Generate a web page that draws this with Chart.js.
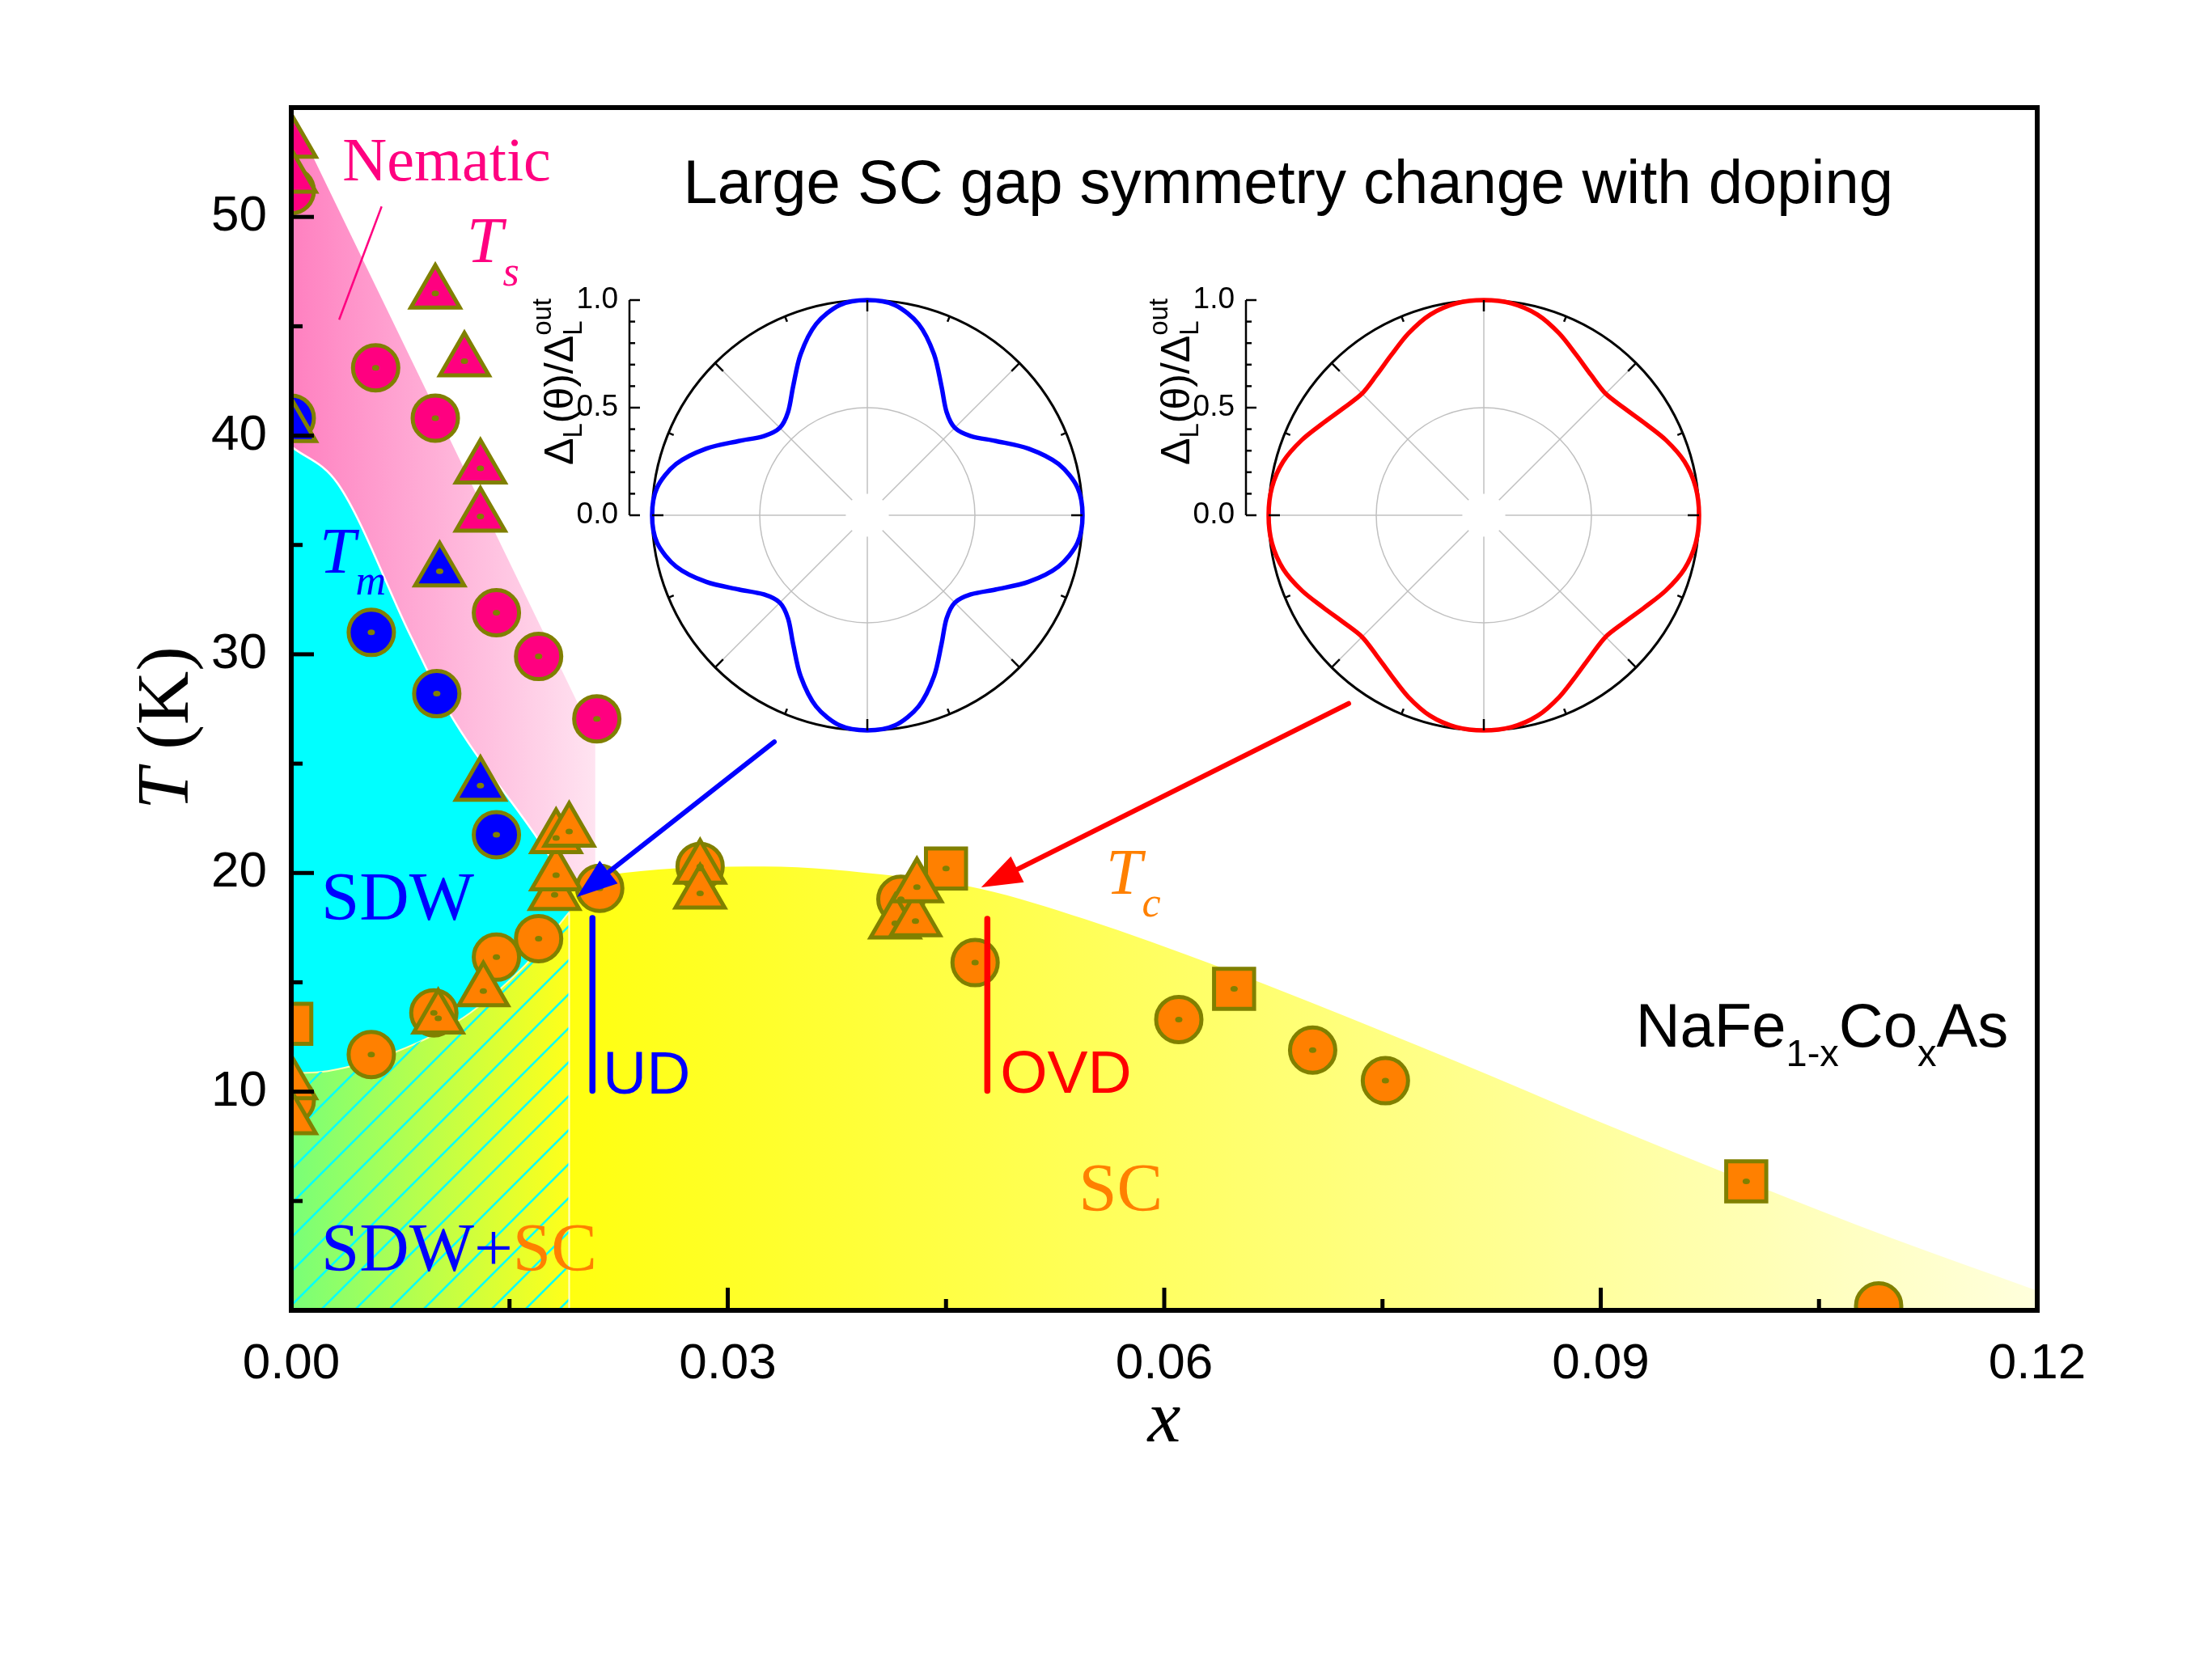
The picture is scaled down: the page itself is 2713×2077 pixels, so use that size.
<!DOCTYPE html>
<html>
<head>
<meta charset="utf-8">
<script src="https://cdn.jsdelivr.net/npm/chart.js@4.4.1/dist/chart.umd.min.js"></script>
<style>
body { margin: 0; background: #fff; }
#wrap { position: relative; width: 2713px; height: 2077px; background: #fff; }
#wrap canvas { position: absolute; }
</style>
</head>
<body>
<div id="wrap">
<canvas id="main" width="2713" height="2077" style="left:0;top:0"></canvas>
<canvas id="insetUD" width="880" height="600" style="left:486px;top:337px"></canvas>
<canvas id="insetOVD" width="880" height="600" style="left:1248px;top:337px"></canvas>
</div>
<script>
// ---------- data (x = Co doping, T in K) ----------
const xTickValues = [0, 0.03, 0.06, 0.09, 0.12];
const xMinorTicks = [0.015, 0.045, 0.075, 0.105];
const yTickValues = [10, 20, 30, 40, 50];
const yMinorTicks = [5, 15, 25, 35, 45];

// structural (nematic) transition Ts
const tsCircles = [[0, 51.2], [0.0058, 43.1], [0.0099, 40.8], [0.0141, 31.9], [0.0170, 29.9], [0.0210, 27.05]];
const tsTriangles = [[0, 53.4], [0, 51.8], [0.0099, 46.5], [0.0119, 43.4], [0.0130, 38.5], [0.0130, 36.3]];
// magnetic transition Tm
const tmCircles = [[0, 40.8], [0.0055, 31.0], [0.0100, 28.2], [0.0141, 21.75]];
const tmTriangles = [[0, 40.4], [0.0102, 33.8], [0.0130, 24.0]];
// superconducting Tc
const tcCircles = [[0, 9.6], [0.0055, 11.7], [0.0098, 13.6], [0.0141, 16.15], [0.0170, 17.0], [0.0212, 19.3], [0.0281, 20.3],
	[0.0419, 18.8], [0.0470, 15.9], [0.0610, 13.3], [0.0702, 11.9], [0.0752, 10.5], [0.1091, 0.2]];
const tcTriangles = [[0, 10.35], [0, 8.75], [0.0101, 13.35], [0.0132, 14.6], [0.0181, 19.0], [0.0182, 19.9], [0.0182, 21.6],
	[0.0191, 21.9], [0.0281, 20.2], [0.0281, 19.07], [0.0415, 17.7], [0.0429, 17.8], [0.0430, 19.35]];
const tcSquares = [[0, 13.1], [0.0450, 20.2], [0.0648, 14.7], [0.1000, 5.9]];

// phase boundaries (shaded regions)
const nematicEdge = [[0, 54.8], [0.0209, 26.1], [0.0209, 19.0]];
const sdwEdge = [[0, 39.5], [0.0032, 37.8], [0.0082, 30.85], [0.0108, 27.4], [0.0167, 21.8], [0.0191, 19.4]];
const coexEdge = [[0, 10.85], [0.0020, 10.9], [0.0043, 11.2], [0.0071, 11.8], [0.0098, 12.6], [0.0123, 13.6], [0.0161, 15.8], [0.0191, 18.2]];
const scDome = [[0.0191, 19.5], [0.0228, 20.0], [0.0325, 20.3], [0.0417, 19.85], [0.0474, 19.27], [0.0545, 17.9], [0.0638, 15.7],
	[0.0700, 14.1], [0.0800, 11.4], [0.0900, 8.6], [0.1000, 5.9], [0.1100, 3.3], [0.1200, 0.9]];

// doping markers and arrows
const dopingUD = [[0.0207, 17.94], [0.0207, 10.04]];
const dopingOVD = [[0.04784, 17.9], [0.04784, 10.04]];
const arrowUD = [[0.0332, 26.0], [0.01963, 18.9]];
const arrowOVD = [[0.07268, 27.75], [0.04742, 19.34]];
const nematicPointer = [[0.00621, 50.48], [0.00329, 45.3]];

// polar insets: normalised gap vs angle
const gapAngles = ['0', '7.5', '15', '22.5', '30', '37.5', '45', '52.5', '60', '67.5', '75', '82.5',
	'90', '97.5', '105', '112.5', '120', '127.5', '135', '142.5', '150', '157.5', '165', '172.5',
	'180', '187.5', '195', '202.5', '210', '217.5', '225', '232.5', '240', '247.5', '255', '262.5',
	'270', '277.5', '285', '292.5', '300', '307.5', '315', '322.5', '330', '337.5', '345', '352.5'];
const gapUD = [1.0, 0.985, 0.92, 0.81, 0.69, 0.605, 0.575, 0.605, 0.69, 0.81, 0.92, 0.985,
	1.0, 0.985, 0.92, 0.81, 0.69, 0.605, 0.575, 0.605, 0.69, 0.81, 0.92, 0.985,
	1.0, 0.985, 0.92, 0.81, 0.69, 0.605, 0.575, 0.605, 0.69, 0.81, 0.92, 0.985,
	1.0, 0.985, 0.92, 0.81, 0.69, 0.605, 0.575, 0.605, 0.69, 0.81, 0.92, 0.985];
const gapOVD = [1.0, 0.993, 0.965, 0.915, 0.86, 0.82, 0.80, 0.82, 0.86, 0.915, 0.965, 0.993,
	1.0, 0.993, 0.965, 0.915, 0.86, 0.82, 0.80, 0.82, 0.86, 0.915, 0.965, 0.993,
	1.0, 0.993, 0.965, 0.915, 0.86, 0.82, 0.80, 0.82, 0.86, 0.915, 0.965, 0.993,
	1.0, 0.993, 0.965, 0.915, 0.86, 0.82, 0.80, 0.82, 0.86, 0.915, 0.965, 0.993];
const gapAxisMajor = [0, 0.5, 1];
const gapAxisMinor = [0.1, 0.2, 0.3, 0.4, 0.6, 0.7, 0.8, 0.9];
const rimTickDeg = [0, 22.5, 45, 67.5, 90, 112.5, 135, 157.5, 180, 202.5, 225, 247.5, 270, 292.5, 315, 337.5];

// ---------- styles ----------
const SANS = '"Liberation Sans", Arial, sans-serif';
const SERIF = '"Liberation Serif", "Times New Roman", serif';
const PINK = '#ff0080', BLUE = '#0000ff', ORANGE = '#ff8000', OLIVE = '#808000', RED = '#ff0000';
const nematicShade = [[0, '#ff80c0'], [0.021, '#ffe4f1']];
const coexShade = [[0, '#78ff78'], [0.0191, '#ffff1a']];
const scShade = [[0.0191, '#ffff10'], [0.12, '#ffffdc']];

const pts = (arr) => arr.map(([x, y]) => ({ x: x, y: y }));

function xGradient(chart, stops) {
	const { ctx, chartArea, scales } = chart;
	if (!chartArea) return 'transparent';
	const x0 = scales.x.getPixelForValue(stops[0][0]);
	const x1 = scales.x.getPixelForValue(stops[stops.length - 1][0]);
	const g = ctx.createLinearGradient(x0, 0, x1, 0);
	stops.forEach(([v, c]) => g.addColorStop((scales.x.getPixelForValue(v) - x0) / (x1 - x0), c));
	return g;
}

// cyan diagonal hatch for the SDW+SC coexistence region
function makeHatch() {
	const s = 42;
	const c = document.createElement('canvas');
	c.width = s; c.height = s;
	const g = c.getContext('2d');
	g.strokeStyle = '#00ffff';
	g.lineWidth = 2.5;
	[[0, s, s, 0], [-s / 2, s / 2, s / 2, -s / 2], [s / 2, s * 1.5, s * 1.5, s / 2]].forEach(([a, b, c2, d]) => {
		g.beginPath(); g.moveTo(a, b); g.lineTo(c2, d); g.stroke();
	});
	return g.createPattern(c, 'repeat');
}

function rich(ctx, x, y, parts, align) {
	let w = 0;
	parts.forEach((p) => { ctx.font = p[1]; w += ctx.measureText(p[0]).width; });
	let cx = align === 'center' ? x - w / 2 : x;
	ctx.textAlign = 'left';
	ctx.textBaseline = 'alphabetic';
	parts.forEach((p) => {
		ctx.font = p[1];
		ctx.fillStyle = p[2];
		ctx.fillText(p[0], cx, y + (p[3] || 0));
		cx += ctx.measureText(p[0]).width;
	});
}

function marker(data, style, radius, color, order) {
	return {
		type: 'scatter', data: pts(data), order: order, clip: 0,
		pointStyle: style, pointRadius: radius, pointHoverRadius: radius,
		backgroundColor: color, borderColor: OLIVE, borderWidth: 5,
		isMarker: true,
	};
}

function region(data, order, extra) {
	return Object.assign({
		type: 'line', data: pts(data), order: order, fill: 'origin', clip: 0,
		pointRadius: 0, borderColor: 'transparent', borderWidth: 2,
		cubicInterpolationMode: 'monotone',
	}, extra);
}

const annotate = {
	id: 'annotate',
	afterDatasetsDraw(chart) {
		const { ctx, chartArea: a, scales: { x, y } } = chart;
		const px = (p) => [x.getPixelForValue(p[0]), y.getPixelForValue(p[1])];
		ctx.save();
		// small olive dot in the centre of each symbol
		chart.data.datasets.forEach((ds, i) => {
			if (!ds.isMarker) return;
			chart.getDatasetMeta(i).data.forEach((pt) => {
				if (pt.x < a.left + 6 || pt.y > a.bottom - 10) return;
				ctx.fillStyle = OLIVE;
				ctx.beginPath();
				ctx.ellipse(pt.x, pt.y, 4.5, 3.5, 0, 0, Math.PI * 2);
				ctx.fill();
			});
		});

		// pointer line for "Nematic"
		const [n0, n1] = [px(nematicPointer[0]), px(nematicPointer[1])];
		ctx.strokeStyle = PINK; ctx.lineWidth = 2.5;
		ctx.beginPath(); ctx.moveTo(n0[0], n0[1]); ctx.lineTo(n1[0], n1[1]); ctx.stroke();

		// arrows from the polar insets
		[[arrowUD, BLUE], [arrowOVD, RED]].forEach(([arr, col]) => {
			const [s, e] = [px(arr[0]), px(arr[1])];
			const ang = Math.atan2(e[1] - s[1], e[0] - s[0]);
			const len = 50, half = 18;
			const bx = e[0] - len * Math.cos(ang), by = e[1] - len * Math.sin(ang);
			ctx.strokeStyle = col; ctx.fillStyle = col; ctx.lineWidth = 6; ctx.lineCap = 'round';
			ctx.beginPath(); ctx.moveTo(s[0], s[1]); ctx.lineTo(bx, by); ctx.stroke();
			ctx.beginPath();
			ctx.moveTo(e[0], e[1]);
			ctx.lineTo(bx + half * Math.sin(ang), by - half * Math.cos(ang));
			ctx.lineTo(bx - half * Math.sin(ang), by + half * Math.cos(ang));
			ctx.closePath(); ctx.fill();
		});

		// labels
		let p = px([0.06852, 50.63]);
		rich(ctx, p[0], p[1], [['Large SC gap symmetry change with doping', '76px ' + SANS, '#000']], 'center');
		p = px([0.00352, 51.66]);
		rich(ctx, p[0], p[1], [['Nematic', '76px ' + SERIF, PINK]]);
		p = px([0.01207, 47.93]);
		rich(ctx, p[0], p[1], [['T', 'italic 80px ' + SERIF, PINK], ['s', 'italic 52px ' + SERIF, PINK, 29]]);
		p = px([0.00195, 33.73]);
		rich(ctx, p[0], p[1], [['T', 'italic 80px ' + SERIF, BLUE], ['m', 'italic 52px ' + SERIF, BLUE, 27]]);
		p = px([0.0560, 19.05]);
		rich(ctx, p[0], p[1], [['T', 'italic 80px ' + SERIF, ORANGE], ['c', 'italic 52px ' + SERIF, ORANGE, 28]]);
		p = px([0.00206, 17.86]);
		rich(ctx, p[0], p[1], [['SDW', '85px ' + SERIF, BLUE]]);
		p = px([0.00206, 1.81]);
		rich(ctx, p[0], p[1], [['SDW+', '85px ' + SERIF, BLUE], ['SC', '85px ' + SERIF, ORANGE]]);
		p = px([0.05412, 4.55]);
		rich(ctx, p[0], p[1], [['SC', '85px ' + SERIF, ORANGE]]);
		p = px([0.02141, 9.91]);
		rich(ctx, p[0], p[1], [['UD', '75px ' + SANS, BLUE]]);
		p = px([0.04872, 9.95]);
		rich(ctx, p[0], p[1], [['OVD', '75px ' + SANS, RED]]);
		p = px([0.0924, 12.06]);
		rich(ctx, p[0], p[1], [['NaFe', '76px ' + SANS, '#000'], ['1-x', '47px ' + SANS, '#000', 24],
			['Co', '76px ' + SANS, '#000'], ['x', '47px ' + SANS, '#000', 24], ['As', '76px ' + SANS, '#000']]);
		ctx.restore();
	},
	afterDraw(chart) {
		const { ctx, chartArea: a, scales: { x, y } } = chart;
		ctx.save();
		ctx.strokeStyle = '#000';
		ctx.lineWidth = 5;
		const seg = (x1, y1, x2, y2) => { ctx.beginPath(); ctx.moveTo(x1, y1); ctx.lineTo(x2, y2); ctx.stroke(); };
		xTickValues.forEach((v) => { const q = x.getPixelForValue(v); seg(q, a.bottom, q, a.bottom - 28); });
		xMinorTicks.forEach((v) => { const q = x.getPixelForValue(v); seg(q, a.bottom, q, a.bottom - 14); });
		yTickValues.forEach((v) => { const q = y.getPixelForValue(v); seg(a.left, q, a.left + 28, q); });
		yMinorTicks.forEach((v) => { const q = y.getPixelForValue(v); seg(a.left, q, a.left + 14, q); });
		ctx.lineWidth = 6;
		ctx.strokeRect(a.left, a.top, a.right - a.left, a.bottom - a.top);

		// axis titles
		rich(ctx, (a.left + a.right) / 2, 1782, [['x', 'italic 92px ' + SERIF, '#000']], 'center');
		ctx.translate(232, 900);
		ctx.rotate(-Math.PI / 2);
		rich(ctx, 0, 0, [['T', 'italic 92px ' + SERIF, '#000'], [' (K)', '92px ' + SERIF, '#000']], 'center');
		ctx.restore();
	},
};

const hatch = makeHatch();

new Chart('main', {
	type: 'scatter',
	data: {
		datasets: [
			region(nematicEdge, 20, { tension: 0, cubicInterpolationMode: 'default', backgroundColor: (c) => xGradient(c.chart, nematicShade) }),
			region(sdwEdge, 19, { backgroundColor: '#00ffff', borderColor: '#ffffff', borderWidth: 2.5 }),
			region(scDome, 18, { backgroundColor: (c) => xGradient(c.chart, scShade) }),
			region(coexEdge, 17, { backgroundColor: (c) => xGradient(c.chart, coexShade), borderColor: '#ffffb0', borderWidth: 2 }),
			region(coexEdge, 16, { backgroundColor: hatch }),
			region([[coexEdge[coexEdge.length - 1][0], 0], coexEdge[coexEdge.length - 1]], 15,
				{ fill: false, tension: 0, cubicInterpolationMode: 'default', borderColor: '#ffffd0', borderWidth: 2 }),
			marker(tcSquares, 'rect', 35, ORANGE, 9),
			marker(tcCircles, 'circle', 28, ORANGE, 8),
			marker(tcTriangles, 'triangle', 35, ORANGE, 7),
			marker(tmCircles, 'circle', 28, BLUE, 6),
			marker(tmTriangles, 'triangle', 35, BLUE, 5),
			marker(tsCircles, 'circle', 28, PINK, 4),
			marker(tsTriangles, 'triangle', 35, PINK, 3),
			{ type: 'line', data: pts(dopingUD), order: 1, pointRadius: 0, borderColor: BLUE, borderWidth: 7.5, borderCapStyle: 'round', fill: false, clip: 0 },
			{ type: 'line', data: pts(dopingOVD), order: 1, pointRadius: 0, borderColor: RED, borderWidth: 7.5, borderCapStyle: 'round', fill: false, clip: 0 },
		],
	},
	options: {
		responsive: false,
		animation: false,
		devicePixelRatio: 1,
		events: [],
		layout: { padding: { left: 0, right: 195, top: 133, bottom: 0 } },
		plugins: { legend: { display: false }, tooltip: { enabled: false } },
		scales: {
			x: {
				type: 'linear', min: 0, max: 0.12,
				afterFit: (s) => { s.height = 457; },
				afterBuildTicks: (s) => { s.ticks = xTickValues.map((v) => ({ value: v })); },
				grid: { display: false, drawTicks: false },
				border: { display: false },
				ticks: { padding: 30, color: '#000', font: { family: SANS, size: 62 }, maxRotation: 0, autoSkip: false,
					callback: (v) => Number(v).toFixed(2) },
			},
			y: {
				type: 'linear', min: 0, max: 55,
				afterFit: (s) => { s.width = 360; },
				afterBuildTicks: (s) => { s.ticks = yTickValues.map((v) => ({ value: v })); },
				grid: { display: false, drawTicks: false },
				border: { display: false },
				ticks: { padding: 30, color: '#000', font: { family: SANS, size: 62 } },
			},
		},
	},
	plugins: [annotate],
});

// ---------- polar insets ----------
const polarFrame = {
	id: 'polarFrame',
	beforeDatasetsDraw(chart) {
		const r = chart.scales.r, ctx = chart.ctx;
		ctx.save();
		ctx.fillStyle = '#fff';
		ctx.beginPath();
		ctx.arc(r.xCenter, r.yCenter, r.drawingArea * 0.1, 0, Math.PI * 2);
		ctx.fill();
		ctx.restore();
	},
	afterDraw(chart) {
		const r = chart.scales.r, ctx = chart.ctx;
		const cx = r.xCenter, cy = r.yCenter, R = r.drawingArea;
		ctx.save();
		ctx.strokeStyle = '#000';
		ctx.lineWidth = 2.5;
		rimTickDeg.forEach((d) => {
			const t = d * Math.PI / 180;
			const l = d % 45 === 0 ? 14 : 7;
			ctx.beginPath();
			ctx.moveTo(cx + R * Math.cos(t), cy - R * Math.sin(t));
			ctx.lineTo(cx + (R - l) * Math.cos(t), cy - (R - l) * Math.sin(t));
			ctx.stroke();
		});
		// value axis on the left
		const ax = cx - R - 28;
		const yv = (v) => cy - r.getDistanceFromCenterForValue(v);
		ctx.beginPath(); ctx.moveTo(ax, yv(0)); ctx.lineTo(ax, yv(1)); ctx.stroke();
		gapAxisMajor.forEach((v) => { ctx.beginPath(); ctx.moveTo(ax, yv(v)); ctx.lineTo(ax + 13, yv(v)); ctx.stroke(); });
		gapAxisMinor.forEach((v) => { ctx.beginPath(); ctx.moveTo(ax, yv(v)); ctx.lineTo(ax + 7, yv(v)); ctx.stroke(); });
		ctx.fillStyle = '#000';
		ctx.font = '37px ' + SANS;
		ctx.textAlign = 'right';
		ctx.textBaseline = 'middle';
		gapAxisMajor.forEach((v) => ctx.fillText(v.toFixed(1), ax - 14, yv(v)));
		// rotated title  Δ_L(θ)/Δ_L^out
		const big = '50px ' + SANS, small = '33px ' + SANS;
		ctx.translate(ax - 70, cy - 165);
		ctx.rotate(-Math.PI / 2);
		ctx.textAlign = 'left';
		ctx.textBaseline = 'alphabetic';
		const w = (t, f) => { ctx.font = f; return ctx.measureText(t).width; };
		const total = w('\u0394', big) + w('L', small) + w('(\u03b8)/\u0394', big) + w('out', small);
		let tx = -total / 2;
		ctx.font = big; ctx.fillText('\u0394', tx, 0); tx += w('\u0394', big);
		ctx.font = small; ctx.fillText('L', tx, 11); tx += w('L', small);
		ctx.font = big; ctx.fillText('(\u03b8)/\u0394', tx, 0); tx += w('(\u03b8)/\u0394', big);
		ctx.font = small; ctx.fillText('L', tx, 11); ctx.fillText('out', tx, -27);
		ctx.restore();
	},
};

function polarInset(id, values, color) {
	new Chart(id, {
		type: 'radar',
		data: {
			labels: gapAngles,
			datasets: [{ data: values, borderColor: color, borderWidth: 5.5, backgroundColor: 'transparent',
				pointRadius: 0, fill: false, tension: 0.3 }],
		},
		options: {
			responsive: false,
			animation: false,
			devicePixelRatio: 1,
			events: [],
			layout: { padding: { left: 320, right: 28, top: 34, bottom: 34 } },
			plugins: { legend: { display: false }, tooltip: { enabled: false } },
			scales: {
				r: {
					min: 0, max: 1,
					ticks: { display: false, stepSize: 0.5 },
					pointLabels: { display: false },
					grid: {
						circular: true,
						color: (c) => (c.tick && c.tick.value >= 1 ? '#000' : '#c0c0c0'),
						lineWidth: (c) => (c.tick && c.tick.value >= 1 ? 3 : 1.5),
					},
					angleLines: {
						color: (c) => (c.index % 6 === 0 ? '#c0c0c0' : 'rgba(0,0,0,0)'),
						lineWidth: 1.5,
					},
				},
			},
		},
		plugins: [polarFrame],
	});
}

polarInset('insetUD', gapUD, BLUE);
polarInset('insetOVD', gapOVD, RED);
</script>
</body>
</html>
